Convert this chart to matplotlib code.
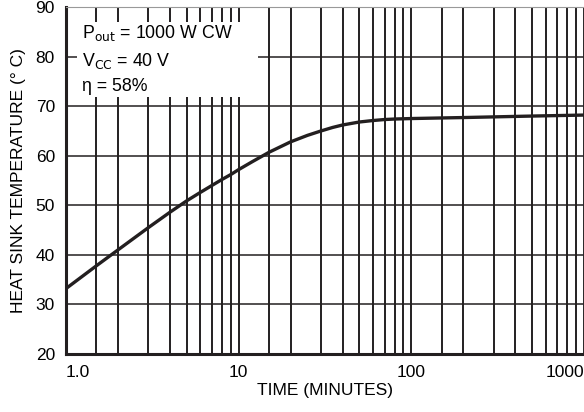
import matplotlib
matplotlib.use("Agg")
from matplotlib import pyplot as plt
from matplotlib.patches import Rectangle
from matplotlib.ticker import FixedLocator, NullFormatter

plt.rcParams['font.family'] = ['Liberation Sans', 'DejaVu Sans']

# time in minutes, heat sink temperature in degC
time_min = [1, 1.5, 2, 3, 4, 5, 6, 7, 8, 9, 10, 12, 15, 20, 25, 30, 35, 40, 50, 60,
            70, 80, 100, 200, 500, 1000]
temp_c = [33.2, 37.8, 41.0, 45.5, 48.6, 50.9, 52.6, 54.0, 55.2, 56.2, 57.2, 58.8,
          60.7, 62.8, 64.1, 65.0, 65.7, 66.2, 66.8, 67.1, 67.3, 67.4, 67.5, 67.7,
          68.0, 68.2]

x_ticks = [1, 10, 100, 1000]
x_labels = ["1.0", "10", "100", "1000"]
y_ticks = [20, 30, 40, 50, 60, 70, 80, 90]
minor_mult = [1.5, 2, 3, 4, 5, 6, 7, 8, 9]

ink = "#231f20"

fig = plt.figure(figsize=(5.84, 4.12), dpi=100)
ax = fig.add_axes([66 / 584, 58 / 412, 518 / 584, 347 / 412])

ax.set_xscale("log")
ax.set_xlim(1, 1000)
ax.set_ylim(20, 90)

# grid (datasheet grid: 1.5, 2 ... 9 in every decade)
minors = [m * d for d in [1, 10, 100] for m in minor_mult]
ax.xaxis.set_minor_locator(FixedLocator(minors))
ax.xaxis.set_minor_formatter(NullFormatter())
ax.set_xticks(x_ticks)
ax.set_xticklabels(x_labels)
ax.set_yticks(y_ticks)
ax.set_axisbelow(True)
ax.grid(axis="x", which="both", color=ink, lw=1.4)
ax.grid(axis="y", which="major", color=ink, lw=1.1)
ax.tick_params(which="both", length=0, labelsize=12.5, colors="black")
ax.tick_params(axis="x", pad=8)
ax.tick_params(axis="y", pad=8)
labs = ax.get_xticklabels()
labs[0].set_ha("left")
labs[-1].set_ha("right")

for s in ["left", "bottom"]:
    ax.spines[s].set_linewidth(2.2)
    ax.spines[s].set_color(ink)
for s in ["top", "right"]:
    ax.spines[s].set_linewidth(0.8)
    ax.spines[s].set_color("#999999")

ax.plot(time_min, temp_c, color=ink, lw=2.4, zorder=3)

# white note box covering the grid
ax.add_patch(Rectangle((0.021, 0.741), 0.35, 0.216, transform=ax.transAxes,
                       facecolor="white", edgecolor="none", zorder=1))
tx = 0.031
ax.text(tx, 0.925, r"P$_{\mathrm{out}}$ = 1000 W CW", transform=ax.transAxes,
        fontsize=12.8, va="center", zorder=4)
ax.text(tx, 0.844, r"V$_{\mathrm{CC}}$ = 40 V", transform=ax.transAxes,
        fontsize=12.8, va="center", zorder=4)
ax.text(tx, 0.772, "η = 58%", transform=ax.transAxes,
        fontsize=12.8, va="center", zorder=4)

ax.set_xlabel("TIME (MINUTES)", fontsize=12.5, labelpad=2)
ax.set_ylabel("HEAT SINK TEMPERATURE (° C)", fontsize=12.5, labelpad=7)

plt.savefig("out.png", dpi=100)
